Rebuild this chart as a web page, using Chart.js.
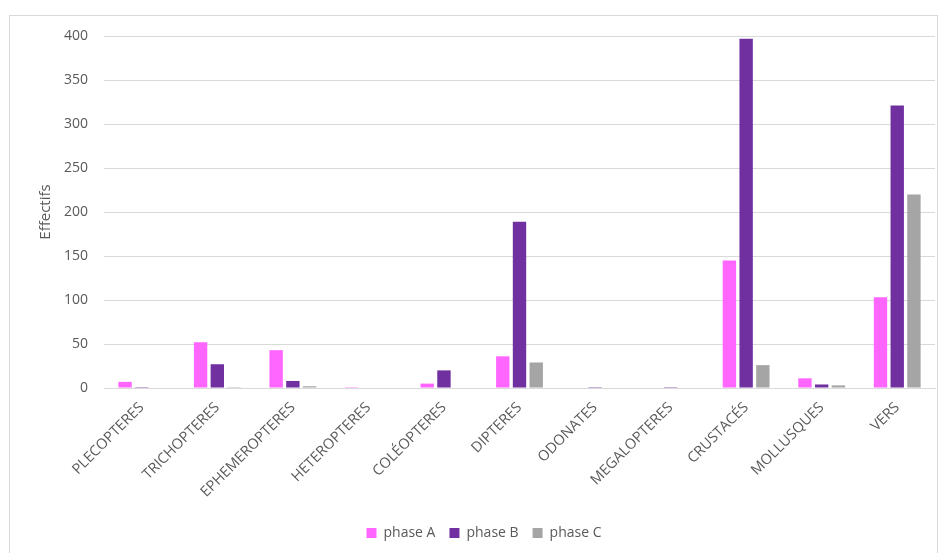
<!DOCTYPE html>
<html>
<head>
<meta charset="utf-8">
<script src="https://cdn.jsdelivr.net/npm/chart.js@4"></script>
<style>
  html, body { margin: 0; padding: 0; background: #fff; }
  #frame { position: absolute; left: 9px; top: 15px; width: 929px; height: 545px; border: 1px solid #d9d9d9; box-sizing: border-box; }
  #wrap { position: absolute; left: 0; top: 0; width: 939px; height: 553px; }
</style>
</head>
<body>
<div id="frame"></div>
<div id="wrap"><canvas id="chart"></canvas></div>
<script>
const categories = ["PLECOPTERES", "TRICHOPTERES", "EPHEMEROPTERES", "HETEROPTERES", "COLÉOPTERES",
  "DIPTERES", "ODONATES", "MEGALOPTERES", "CRUSTACÉS", "MOLLUSQUES", "VERS"];
const phaseA = [7, 52, 43, 1, 5, 36, 0, 0, 145, 11, 103];
const phaseB = [1, 27, 8, 0, 20, 189, 1, 1, 397, 4, 321];
const phaseC = [0, 1, 2, 0, 0, 29, 0, 0, 26, 3, 220];
const yTicks = [0, 50, 100, 150, 200, 250, 300, 350, 400];

const textColor = "#595959";
const family = "'Open Sans', sans-serif";

const ctx = document.getElementById("chart").getContext("2d");
new Chart(ctx, {
  type: "bar",
  data: {
    labels: categories,
    datasets: [
      { label: "phase A", data: phaseA, backgroundColor: "#FF66FF" },
      { label: "phase B", data: phaseB, backgroundColor: "#7030A0" },
      { label: "phase C", data: phaseC, backgroundColor: "#A5A5A5" }
    ]
  },
  options: {
    responsive: true,
    maintainAspectRatio: false,
    animation: false,
    datasets: { bar: { categoryPercentage: 0.664, barPercentage: 0.8 } },
    layout: { padding: { left: 33, right: 4, top: 36, bottom: 3 } },
    plugins: {
      legend: {
        position: "bottom",
        labels: { color: textColor, font: { family: family, size: 14 }, boxWidth: 10, boxHeight: 10, padding: 14 }
      },
      tooltip: { enabled: false }
    },
    scales: {
      x: {
        grid: { display: false },
        border: { color: "#d9d9d9" },
        ticks: { color: textColor, font: { family: family, size: 14.5 }, minRotation: 45, maxRotation: 45, autoSkip: false },
        afterFit: axis => { axis.height = 124; }
      },
      y: {
        min: 0,
        max: 400,
        afterBuildTicks: axis => { axis.ticks = yTicks.map(v => ({ value: v })); },
        afterFit: axis => { axis.width = 71; },
        grid: { color: "#d9d9d9", drawTicks: false },
        border: { display: false },
        ticks: { color: textColor, font: { family: family, size: 14 }, padding: 16 },
        title: { display: true, text: "Effectifs", color: textColor, font: { family: family, size: 15 }, padding: 4 }
      }
    }
  }
});
</script>
</body>
</html>
